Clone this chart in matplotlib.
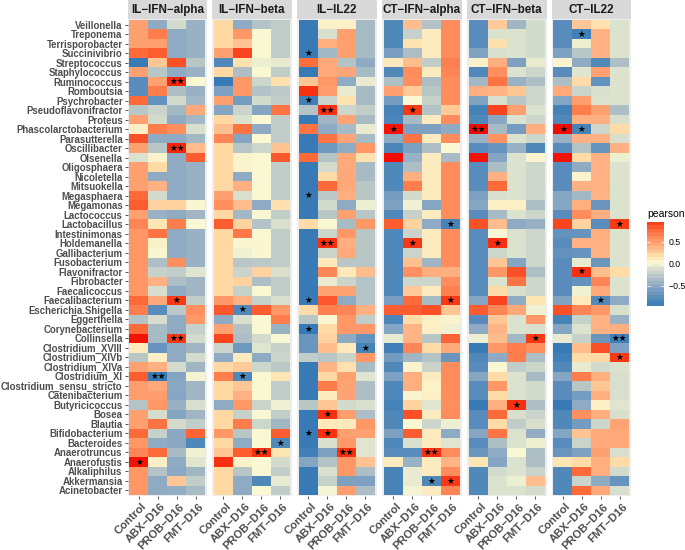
"""
Pearson correlation heatmaps of genera against cytokines, one panel per cytokine.
"""

import matplotlib
matplotlib.use('Agg')
import matplotlib.pyplot as plt
import numpy as np
from matplotlib.colors import LinearSegmentedColormap, Normalize
from matplotlib.transforms import ScaledTranslation

genera = ['Veillonella', 'Treponema', 'Terrisporobacter', 'Succinivibrio', 'Streptococcus',
          'Staphylococcus', 'Ruminococcus', 'Romboutsia', 'Psychrobacter', 'Pseudoflavonifractor',
          'Proteus', 'Phascolarctobacterium', 'Parasutterella', 'Oscillibacter', 'Olsenella',
          'Oligosphaera', 'Nicoletella', 'Mitsuokella', 'Megasphaera', 'Megamonas',
          'Lactococcus', 'Lactobacillus', 'Intestinimonas', 'Holdemanella', 'Gallibacterium',
          'Fusobacterium', 'Flavonifractor', 'Fibrobacter', 'Faecalicoccus', 'Faecalibacterium',
          'Escherichia.Shigella', 'Eggerthella', 'Corynebacterium', 'Collinsella', 'Clostridium_XVIII',
          'Clostridium_XIVb', 'Clostridium_XIVa', 'Clostridium_XI', 'Clostridium_sensu_stricto',
          'Catenibacterium', 'Butyricicoccus', 'Bosea', 'Blautia', 'Bifidobacterium', 'Bacteroides',
          'Anaerotruncus', 'Anaerofustis', 'Alkaliphilus', 'Akkermansia', 'Acinetobacter']

groups = ['Control', 'ABX\u2212D16', 'PROB\u2212D16', 'FMT\u2212D16']
panel_names = ['IL\u2212IFN\u2212alpha', 'IL\u2212IFN\u2212beta', 'IL\u2212IL22',
               'CT\u2212IFN\u2212alpha', 'CT\u2212IFN\u2212beta', 'CT\u2212IL22']

# Rows follow genera, columns follow groups.
il_ifn_alpha = [
    [.5, -.5, -.15, -.45], [.5, .7, -.5, -.45], [.5, .5, -.5, -.45], [.8, .85, -.5, -.45],
    [-1, .3, .9, -.3], [.5, -.3, -.5, -.45], [-.8, .5, 1.1, .02], [-.8, .7, -.35, -.45],
    [.8, -.75, -.15, -.4], [-.3, -.2, -.4, .45], [.5, -.15, -.5, -.4], [.08, .7, .6, -.12],
    [.9, -.5, -.5, -.4], [.5, -.3, 1.1, .35], [-.1, .05, -.5, .85], [.5, .2, -.5, -.45],
    [.5, -.5, -.5, -.45], [.5, .4, -.5, -.45], [.8, -.15, -.5, -.45], [.85, .25, .25, .03],
    [.5, -.45, -.5, -.42], [.65, .15, .7, .02], [.55, .75, -.5, -.45], [.55, .07, -.5, -.45],
    [.55, .03, -.5, -.45], [.55, -.35, .6, -.45], [.55, -.22, -.25, -.08], [.55, .4, -.35, -.42],
    [.55, -.13, -.5, -.42], [.8, .45, 1.0, -.25], [.7, -.8, -.28, .6], [-.32, -.13, -.5, .55],
    [.8, -.38, -.5, -.22], [1.2, -.38, 1.0, -.15], [.12, -.72, -.5, -.42], [-.3, .08, -.5, -.15],
    [.5, .4, -.15, -.42], [.85, -1, -.55, 0], [.52, .45, -.52, -.42], [.52, .52, -.55, -.42],
    [-.32, .55, -.45, -.12], [.5, -.14, -.55, -.42], [.5, .75, -.15, -.25], [.8, -.22, -.52, .82],
    [.55, -.5, -.52, -.85], [.65, .8, -.37, -.02], [1.2, .08, -.5, -.08], [.55, -.32, -.52, -.42],
    [.55, -.5, .3, -.25], [.55, -.5, -.48, -.38],
]
il_ifn_beta = [
    [.22, -.5, -.32, -.25], [.22, .55, .02, -.25], [.22, .32, .02, -.25], [.5, .95, .02, -.25],
    [-.85, .18, -.03, -.06], [.22, -.35, .02, -.25], [-1, .55, -.18, .18], [-.6, .55, -.33, -.27],
    [.5, -.65, -.15, -.25], [-.55, -.2, -.55, .75], [.22, -.1, .02, -.25], [.33, .75, -.5, -.25],
    [.65, -.55, .02, -.25], [.22, -.3, -.18, .32], [.22, .05, .02, .88], [.22, .05, .02, -.25],
    [.22, -.5, .02, -.25], [.22, .4, .02, -.25], [.5, -.12, .02, -.25], [.6, .35, -.5, .18],
    [.22, -.4, .02, -.25], [.85, .25, -.32, -.12], [.22, .72, .02, -.25], [.22, .03, .03, -.25],
    [.22, -.02, .03, -.25], [.22, -.3, -.28, -.25], [.22, -.2, .25, -.12], [.22, .25, -.35, -.25],
    [.22, -.22, .02, -.25], [.55, .4, -.22, -.12], [.88, -.85, .85, .55], [-.5, -.12, .02, .7],
    [.5, -.33, .02, -.45], [.95, -.35, -.15, .02], [-.2, -.68, -.08, -.22], [-.5, .1, -.5, -.2],
    [.22, .28, -.18, -.28], [.7, -.85, .02, .15], [.22, .3, .02, -.25], [.22, .4, .02, -.25],
    [-.5, .55, -.2, -.02], [.22, -.22, .02, -.25], [.22, .7, -.18, -.42], [.55, -.3, .02, .85],
    [.22, -.5, .02, -.85], [.3, .85, 1.05, .15], [1.05, .06, .02, -.15], [.22, -.3, .02, -.25],
    [.22, -.5, -.85, -.05], [.22, -.5, .02, -.25],
]
il_il22 = [
    [-1, .07, .07, -.38], [-1, -.12, .5, -.38], [-1, .42, .5, -.38], [-1, -.4, .5, -.38],
    [.78, .45, -.32, -.5], [-1, .45, .47, -.38], [.3, .55, -.5, -.05], [1.05, .52, -.05, -.38],
    [-.95, -.2, .17, -.38], [-.32, 1.05, -.18, -.25], [-1, -.42, .48, -.38], [.75, -.5, -.38, -.05],
    [-1, .75, .47, -.38], [-1, -.68, -.5, .55], [.8, -.32, .45, .18], [-1, -.15, .45, -.38],
    [-1, .2, .45, -.38], [-1, .8, .45, -.3], [-1, -.28, .42, -.3], [-1, -.15, -.5, -.03],
    [-1, -.3, .5, -.3], [.2, .02, -.38, .55], [-1, -.18, .55, -.3], [-1, 1.05, .42, -.3],
    [-1, -.2, .45, -.3], [-1, .12, -.3, -.3], [-1, .65, .12, .35], [-1, -.05, -.2, -.32],
    [-1, .48, .48, -.32], [-1, .88, -.5, -.32], [.2, .68, .65, .4], [-.3, .03, .55, -.25],
    [-1, .2, .55, .55], [-.7, .25, -.5, -.75], [-.7, .35, .12, -.9], [-.25, -.3, -.2, .55],
    [-1, .38, .18, -.38], [-1, .22, .5, -.08], [-1, .7, .48, -.35], [-1, .1, .48, -.35],
    [-.3, .3, -.15, -.12], [-1, 1.05, .52, -.35], [-1, .12, .12, .55], [-1, 1.05, .5, .5],
    [-1, -.12, .55, -.08], [-.95, -.6, 1.05, -.08], [-.55, -.32, .55, .32], [-1, -.12, .55, -.35],
    [-1, -.22, -.6, -.6], [-1, 0, .52, -.35],
]
ct_ifn_alpha = [
    [-.85, .35, -.33, .62], [-.85, -.22, .1, .62], [-.85, .17, .1, .62], [-.62, -.35, .1, .62],
    [.12, .35, -.25, .68], [-.85, .62, .1, .65], [-.35, .6, -.35, .62], [.5, .28, -.3, .62],
    [-.65, .02, -.22, .62], [-.92, 1.0, -.32, .28], [-.88, -.38, .1, .62], [1.2, -.6, -.6, -.5],
    [-.5, .75, .1, .62], [-.88, -.6, -.35, .02], [1.25, -.45, .1, -.38], [-.85, -.35, .1, .62],
    [-.85, .42, .1, .62], [-.85, .7, .1, .62], [-.65, -.15, .1, .62], [-.6, -.02, -.55, .62],
    [-.85, -.22, .1, .62], [.85, .25, -.5, -.9], [-.85, -.2, .1, .62], [-.85, 1.0, .1, .62],
    [-.85, -.2, .1, .62], [-.85, .33, -.42, .62], [-.85, .6, .42, .42], [-.85, -.18, -.18, .62],
    [-.85, .28, .1, .68], [-.62, .8, -.38, 1.0], [.85, .85, .9, .3], [-.88, .2, .08, .05],
    [-.55, .38, .08, -.02], [-.05, .38, -.3, .82], [-.95, .65, .2, .45], [-.65, -.42, -.32, -.7],
    [-.85, .05, -.2, .62], [-.6, .42, .1, .62], [-.85, .42, .06, .62], [-.85, .05, .08, .62],
    [-.92, .25, -.08, .6], [-.85, .9, .1, .62], [-.85, .02, -.18, -.03], [-.6, .85, .1, -.5],
    [-.85, -.12, .1, -.08], [-.8, -.8, 1.05, .62], [.1, -.45, .1, .38], [-.9, -.05, .1, .62],
    [-.9, -.05, -.85, 1.0], [-.9, 0, .1, .65],
]
ct_ifn_beta = [
    [-.8, .28, -.42, -.15], [-.8, -.1, -.1, -.15], [-.8, .18, -.1, -.15], [-.58, -.12, -.1, -.15],
    [.06, .42, -.6, -.05], [-.85, .6, -.1, -.18], [-.4, .75, -.45, -.35], [.42, .38, .3, -.18],
    [-.58, -.12, -.3, -.18], [-.92, .95, .5, -.1], [-.85, -.52, -.1, -.18], [1.25, -.38, -.65, .42],
    [-.45, .58, -.1, -.18], [-.8, -.72, -.45, -.85], [1.2, -.55, -.1, .05], [-.8, -.35, -.1, -.18],
    [-.8, .4, -.1, -.18], [-.8, .8, -.1, -.18], [-.6, -.12, -.1, -.18], [-.55, .08, .08, -.35],
    [-.8, -.38, -.1, -.18], [.9, .35, -.5, -.45], [-.8, .03, -.1, -.18], [-.8, 1.05, -.1, -.18],
    [-.8, -.18, -.1, -.18], [-.8, .3, -.55, -.18], [-.8, .55, .9, -.35], [-.8, -.1, .75, -.18],
    [-.8, .2, -.12, -.18], [-.55, .95, -.5, .15], [.85, .65, .45, -.02], [-.8, .3, -.1, .55],
    [-.5, .38, -.1, -.12], [-.03, .35, -.4, 1.0], [-1, .55, .7, .6], [-.85, -.5, .7, -.35],
    [-.8, .02, -.25, -.18], [-.55, .2, -.1, -.38], [-.8, .55, -.1, -.15], [-.8, .2, -.1, -.15],
    [-1, .42, 1.05, -.35], [-.8, .8, -.12, -.2], [-.8, .2, -.25, -.12], [-.55, .75, -.1, -.48],
    [-.8, -.35, -.1, -.03], [-.7, -.5, .02, -.35], [.15, -.55, -.1, -.35], [-.85, -.15, -.1, -.2],
    [-.85, -.1, -.03, .35], [-.85, -.1, -.1, -.15],
]
ct_il22 = [
    [-.8, .3, .18, -.1], [-.8, -.95, .4, -.1], [-.8, -.03, .4, -.1], [-.6, -.3, .4, -.1],
    [.05, -.5, -.85, -.35], [-.8, -.08, .5, -.1], [-.35, .2, -.75, -.1], [.45, -.2, -.12, -.1],
    [-.55, .52, -.1, -.1], [-.92, .7, .5, -.35], [-.85, .42, .42, -.12], [1.25, -.9, -.18, .2],
    [-.45, .4, .4, -.12], [-.8, -.32, -.72, .4], [1.2, .2, .4, -.03], [-.8, -.5, .4, -.1],
    [-.8, .05, .4, -.1], [-.8, .4, .4, -.1], [-.55, -.4, .38, -.1], [-.55, .42, -.7, -.1],
    [-.8, .62, .42, -.1], [.95, .25, -.8, 1.0], [-.75, -.72, .42, -.1], [-.8, .4, .4, -.1],
    [-.75, -.72, .4, -.1], [-.8, -.05, -.7, -.1], [-.8, 1.05, .35, .2], [-.8, -.75, .65, -.1],
    [-.8, -.02, .45, -.1], [-.58, .12, -.85, -.5], [.9, .65, .55, -.12], [-.9, -.22, .4, -.45],
    [-.55, -.1, .4, .42], [-.05, -.22, -.7, -.95], [-1, .35, .9, -.6], [-.95, .2, .22, 1.0],
    [-.85, -.05, -.15, -.1], [-.55, .7, .42, -.12], [-.8, -.3, .3, -.12], [-.8, -.65, .42, -.12],
    [-1, -.5, .08, -.08], [-.85, .6, .42, -.12], [-.85, -.65, -.18, .48], [-.55, .32, .45, .45],
    [-.8, -.2, .45, .45], [-.7, -.6, .5, -.12], [.15, .2, .42, .2], [-.85, .8, .42, -.15],
    [-.85, -.2, -.5, -.72], [-.85, .8, .45, -.12],
]
panel_values = [il_ifn_alpha, il_ifn_beta, il_il22, ct_ifn_alpha, ct_ifn_beta, ct_il22]

# Significance marks as (genus, group index, number of stars).
il_ifn_alpha_stars = [('Ruminococcus', 2, 2), ('Oscillibacter', 2, 2), ('Faecalibacterium', 2, 1),
                      ('Collinsella', 2, 2), ('Clostridium_XI', 1, 2), ('Anaerofustis', 0, 1)]
il_ifn_beta_stars = [('Escherichia.Shigella', 1, 1), ('Clostridium_XI', 1, 1), ('Bacteroides', 3, 1),
                     ('Anaerotruncus', 2, 2)]
il_il22_stars = [('Succinivibrio', 0, 1), ('Psychrobacter', 0, 1), ('Pseudoflavonifractor', 1, 2),
                 ('Megasphaera', 0, 1), ('Holdemanella', 1, 2), ('Faecalibacterium', 0, 1),
                 ('Corynebacterium', 0, 1), ('Clostridium_XVIII', 3, 1), ('Bosea', 1, 1),
                 ('Bifidobacterium', 0, 1), ('Bifidobacterium', 1, 1), ('Anaerotruncus', 2, 2)]
ct_ifn_alpha_stars = [('Pseudoflavonifractor', 1, 1), ('Phascolarctobacterium', 0, 1),
                      ('Lactobacillus', 3, 1), ('Holdemanella', 1, 1), ('Faecalibacterium', 3, 1),
                      ('Anaerotruncus', 2, 2), ('Akkermansia', 2, 1), ('Akkermansia', 3, 1)]
ct_ifn_beta_stars = [('Phascolarctobacterium', 0, 2), ('Holdemanella', 1, 1), ('Collinsella', 3, 1),
                     ('Butyricicoccus', 2, 1)]
ct_il22_stars = [('Treponema', 1, 1), ('Phascolarctobacterium', 0, 1), ('Phascolarctobacterium', 1, 1),
                 ('Lactobacillus', 3, 1), ('Flavonifractor', 1, 1), ('Faecalibacterium', 2, 1),
                 ('Collinsella', 3, 2), ('Clostridium_XIVb', 3, 1)]
panel_stars = [il_ifn_alpha_stars, il_ifn_beta_stars, il_il22_stars,
               ct_ifn_alpha_stars, ct_ifn_beta_stars, ct_il22_stars]

legend_ticks = [-0.5, 0.0, 0.5]

# Colour scale, washed-out blue through pale yellow to strong red.
vmin, vmax = -1.05, 1.25
stops = [(-1.05, '#2F76B3'), (-0.8, '#5A8DBC'), (-0.5, '#8FABC4'), (-0.3, '#B8C6C6'),
         (-0.1, '#DCE2CE'), (0.02, '#FAF8D4'), (0.2, '#FFDDA8'), (0.4, '#FFB183'),
         (0.6, '#FF8F5F'), (0.8, '#FD6A3A'), (1.0, '#F83A16'), (1.25, '#F20B00')]
cmap = LinearSegmentedColormap.from_list(
    'pearson', [((v - vmin) / (vmax - vmin), c) for v, c in stops], N=256)
norm = Normalize(vmin, vmax)

W, H = 685, 550
plt.rcParams['font.family'] = ['Liberation Sans', 'DejaVu Sans']
fig = plt.figure(figsize=(W / 100, H / 100), dpi=100)


def px_axes(x0, y0, x1, y1):
    """Axes placed by pixel box, y counted from the top of the image."""
    return fig.add_axes([x0 / W, 1 - y1 / H, (x1 - x0) / W, (y1 - y0) / H])


panel_left = [127.5, 212, 297, 382, 467, 551.5]
panel_w = 79.5
grey = '#4D4D4D'
label_shift = ScaledTranslation(2.5 / 100, 0, fig.dpi_scale_trans)

for i, name in enumerate(panel_names):
    x0 = panel_left[i]

    # Strip on top of the panel.
    strip = px_axes(x0, 0, x0 + panel_w, 19)
    strip.set_facecolor('#D9D9D9')
    strip.set_xticks([])
    strip.set_yticks([])
    for s in strip.spines.values():
        s.set_visible(False)
    strip.text(0.5, 0.47, name, transform=strip.transAxes, ha='center', va='center',
               fontsize=8.4, fontweight='bold', color='#1A1A1A')

    ax = px_axes(x0, 19, x0 + panel_w, 496)
    ax.set_facecolor('#EDEDED')
    ax.pcolormesh(np.arange(5) - 0.5, np.arange(51) - 0.5, np.array(panel_values[i]),
                  cmap=cmap, norm=norm, linewidth=0, rasterized=True)
    ax.set_xlim(-0.6, 3.6)
    ax.set_ylim(49.6, -0.6)
    for s in ax.spines.values():
        s.set_visible(False)

    for genus, col, n in panel_stars[i]:
        ax.text(col, genera.index(genus) + 0.02, '\u2605' * n, ha='center', va='center',
                fontsize=6.2, color='black', family='DejaVu Sans')

    ax.set_xticks(range(4))
    ax.set_xticklabels(groups, rotation=45, ha='right', rotation_mode='anchor',
                       fontsize=8.1, fontweight='bold', color=grey)
    ax.tick_params(axis='x', length=2, width=0.7, color='#555555', pad=2)
    for lab in ax.get_xticklabels():
        lab.set_transform(lab.get_transform() + label_shift)
    ax.set_yticks(range(50))
    if i == 0:
        ax.set_yticklabels(genera, fontsize=6.95, fontweight='bold', color=grey)
        ax.tick_params(axis='y', length=2, width=0.7, color='#555555', pad=1.5)
    else:
        ax.tick_params(axis='y', length=0, labelleft=False)

# Stepped colour legend.
cax = px_axes(647, 221.5, 664, 306)
bands = np.linspace(-0.95, 0.95, 24)
cax.pcolormesh([0, 1], np.linspace(-0.95, 0.95, 25), bands[:, None], cmap=cmap, norm=norm)
cax.set_xlim(0, 1)
cax.set_ylim(-0.95, 0.95)
cax.set_xticks([])
cax.set_yticks(legend_ticks)
cax.yaxis.tick_right()
cax.set_yticklabels(['\u22120.5', '0.0', '0.5'], fontsize=6.3, color='black')
cax.tick_params(axis='y', length=0, pad=3)
for s in cax.spines.values():
    s.set_visible(False)
for t in legend_ticks:
    cax.plot([0, 0.2], [t, t], color='white', lw=0.5)
    cax.plot([0.8, 1], [t, t], color='white', lw=0.5)
fig.text(647 / W, 1 - 214 / H, 'pearson', fontsize=7.5, ha='left', va='center', color='black')

fig.savefig('out.png', dpi=100)
